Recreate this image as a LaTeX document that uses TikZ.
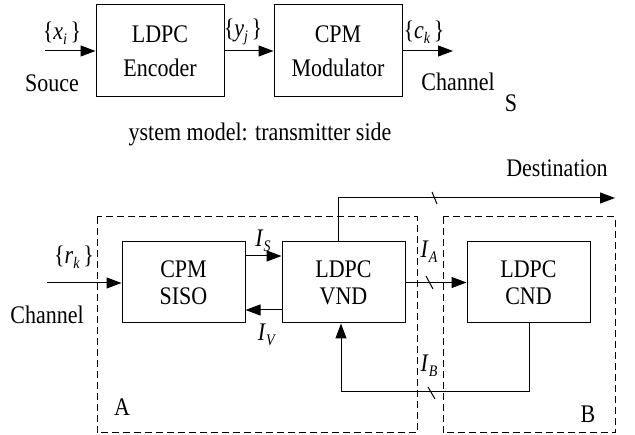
\documentclass[tikz,border=0pt]{standalone}
\usepackage{fontspec}
\usepackage{graphicx}
\setmainfont{Liberation Serif}
\usetikzlibrary{arrows.meta}
\newcommand{\tl}[1]{\scalebox{1}[1.15]{#1}}
\newcommand{\sub}[2]{\tl{\textit{#1}\raisebox{-4pt}{\fontsize{14}{14}\selectfont\textit{#2}}}}
\newcommand{\brsub}[2]{\tl{\{\textit{#1}\raisebox{-4pt}{\fontsize{14}{14}\selectfont\textit{#2}}\,\}}}
\begin{document}
\begin{tikzpicture}[x=1pt,y=-1pt,
  every node/.style={font=\fontsize{22}{34}\selectfont},
  blk/.style={draw,line width=1pt,minimum width=128pt,minimum height=92pt,align=center,inner sep=0pt},
  sblk/.style={draw,line width=1pt,minimum width=123pt,minimum height=81pt,align=center,inner sep=0pt,font=\fontsize{22}{27}\selectfont},
  lbl/.style={inner sep=0pt},
  conn/.style={line width=1pt,-{Triangle[length=15pt,width=11pt]}},
  plain/.style={line width=1pt},
  region/.style={draw,line width=1pt,dash pattern=on 7pt off 4pt}]
\useasboundingbox (0,0) rectangle (635,435);
% top
\node[blk] (enc) at (160,51) {\tl{LDPC}\\\tl{Encoder}};
\node[blk] (mod) at (338,51) {\tl{CPM}\\\tl{Modulator}};
\coordinate (src) at (45,51);
\coordinate (chout) at (453,51);
\draw[conn] (src) -- (enc);
\draw[conn] (enc) -- (mod);
\draw[conn] (mod) -- (chout);
\node[lbl] (lx) at (62,33) {\brsub{x}{i}};
\node[lbl] (ly) at (243,32) {\brsub{y}{j}};
\node[lbl] (lc) at (424,32) {\brsub{c}{k}};
\node[lbl] (souce) at (52,83) {\tl{Souce}};
\node[lbl] (chan1) at (458,82) {\tl{Channel}};
\node[lbl] (s) at (511,103) {\tl{S}};
\node[lbl] (cap) at (260,134) {\tl{ystem model: transmitter side}};
% bottom regions
\draw[region] (97,217) rectangle (417,433);
\draw[region] (443,217) rectangle (615,433);
\node[lbl] (la) at (122,407) {\tl{A}};
\node[lbl] (lb) at (588,414) {\tl{B}};
% bottom blocks
\node[sblk] (siso) at (183.5,282.5) {\tl{CPM}\\\tl{SISO}};
\node[sblk] (vnd) at (343.5,282.5) {\tl{LDPC}\\\tl{VND}};
\node[sblk] (cnd) at (528.5,282.5) {\tl{LDPC}\\\tl{CND}};
\coordinate (chin) at (47,283);
\draw[conn] (chin) -- (siso.west |- chin);
\node[lbl] (lr) at (74,257) {\brsub{r}{k}};
\node[lbl] (chan2) at (47,315) {\tl{Channel}};
\draw[conn] ([yshift=26.5pt]siso.east) -- ([yshift=26.5pt]vnd.west);
\draw[conn] ([yshift=-27.5pt]vnd.west) -- ([yshift=-27.5pt]siso.east);
\node[lbl] (lis) at (263,241) {\sub{I}{S}};
\node[lbl] (liv) at (267,335) {\sub{I}{V}};
\draw[conn] (vnd) -- (cnd);
\node[lbl] (lia) at (429,252) {\sub{I}{A}};
\draw[plain] (426,276) -- (433,289);
% destination
\coordinate (dturn) at (338,198);
\coordinate (dest) at (615,198);
\draw[conn] (vnd.north -| dturn) -- (dturn) -- (dest);
\draw[plain] (432,192) -- (437,204);
\node[lbl] (ldest) at (557,168) {\tl{Destination}};
% feedback
\coordinate (fb1) at (529,392);
\coordinate (fb2) at (341,392);
\draw[conn] (cnd.south -| fb1) -- (fb1) -- (fb2) -- (fb2 |- vnd.south);
\draw[plain] (428,387) -- (435,399);
\node[lbl] (lib) at (429,366) {\sub{I}{B}};
\end{tikzpicture}
\end{document}
